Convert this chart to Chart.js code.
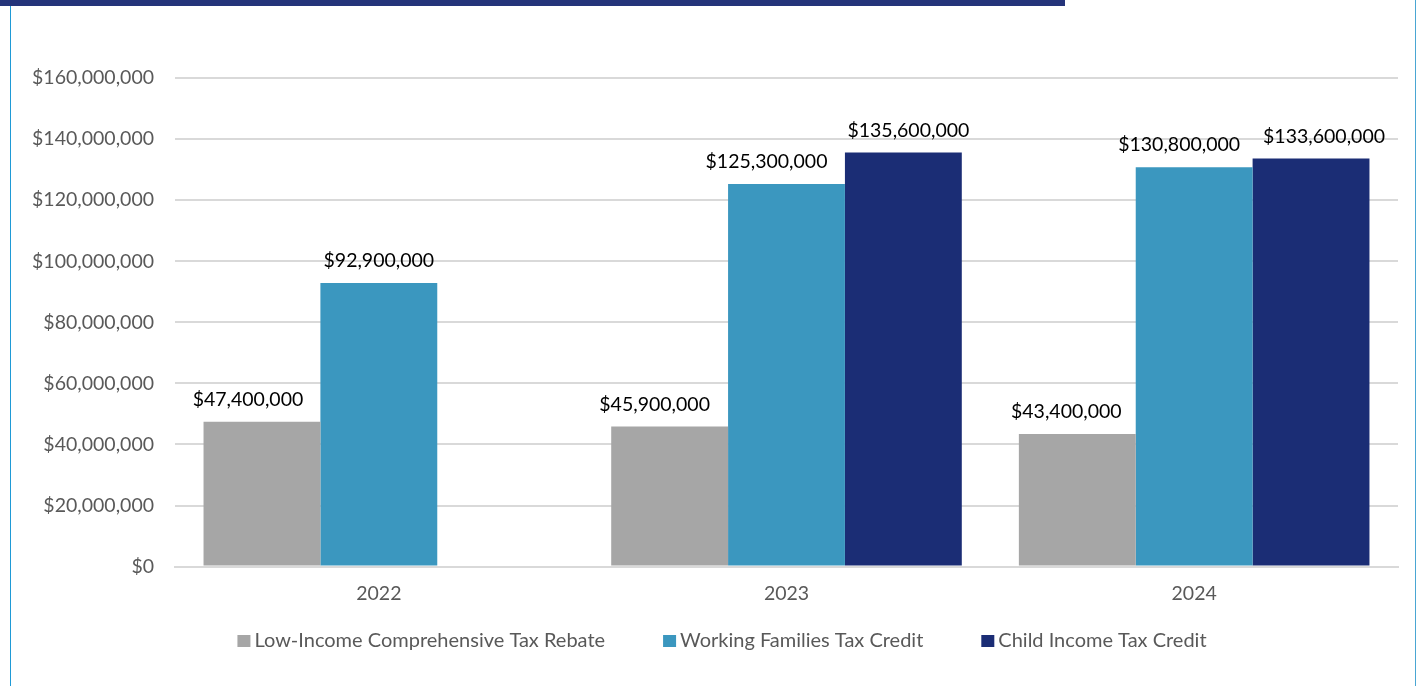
<!DOCTYPE html>
<html>
<head>
<meta charset="utf-8">
<script src="https://cdn.jsdelivr.net/npm/chart.js@4.4.1/dist/chart.umd.min.js"></script>
<style>
  html, body { margin: 0; padding: 0; background: #ffffff; }
  #wrap { position: relative; width: 1419px; height: 686px; overflow: hidden; }
  #topbar { position: absolute; left: 0; top: 0; width: 1065px; height: 6px; background: #25347a; }
  #leftrule { position: absolute; left: 10px; top: 6px; width: 1px; height: 680px; background: #1f9ad6; }
  #rightrule { position: absolute; left: 1415px; top: 0; width: 1px; height: 686px; background: #4aa6d3; }
  canvas { position: absolute; left: 0; top: 0; }
</style>
</head>
<body>
<div id="wrap">
  <canvas id="c" width="1419" height="686"></canvas>
  <div id="topbar"></div>
  <div id="leftrule"></div>
  <div id="rightrule"></div>
</div>
<script>
// Fiscal years shown on the category axis
const years = ['2022', '2023', '2024'];

// Credit totals in dollars per year (null = no credit that year)
const lowIncomeRebate = [47400000, 45900000, 43400000];
const workingFamilies = [92900000, 125300000, 130800000];
const childIncome = [null, 135600000, 133600000];

const seriesNames = [
  'Low-Income Comprehensive Tax Rebate',
  'Working Families Tax Credit',
  'Child Income Tax Credit'
];
const seriesColors = ['#a6a6a6', '#3b97bf', '#1b2d75'];

// Horizontal nudges (px) so neighbouring value labels don't collide
const labelNudge = [
  [-14, -15, -11],
  [0, -20, -15],
  [0, 5, 13]
];

const FONT = 'Lato, "Open Sans", sans-serif';
const money = v => '$' + Math.round(v).toLocaleString('en-US');

// Value labels above each bar
const barValueLabels = {
  id: 'barValueLabels',
  afterDatasetsDraw(chart) {
    const ctx = chart.ctx;
    ctx.save();
    ctx.font = '19.5px ' + FONT;
    ctx.fillStyle = '#000000';
    ctx.textAlign = 'center';
    ctx.textBaseline = 'middle';
    chart.data.datasets.forEach((ds, i) => {
      chart.getDatasetMeta(i).data.forEach((bar, j) => {
        const v = ds.data[j];
        if (v === null || v === undefined) return;
        ctx.fillText(money(v), bar.x + labelNudge[i][j], bar.y - 22);
      });
    });
    ctx.restore();
  }
};

// Legend row under the axis, built from the dataset names and colours
const legendRow = {
  id: 'legendRow',
  afterDraw(chart) {
    const ctx = chart.ctx;
    const box = 13, gap = 4, spacing = 58, cx = 722, cy = 641;
    ctx.save();
    ctx.font = '20px ' + FONT;
    ctx.textBaseline = 'middle';
    const items = chart.data.datasets.map(ds => ({
      text: ds.label, color: ds.backgroundColor, w: ctx.measureText(ds.label).width
    }));
    const total = items.reduce((s, it) => s + box + gap + it.w, 0) + spacing * (items.length - 1);
    let x = cx - total / 2;
    items.forEach(it => {
      ctx.fillStyle = it.color;
      ctx.fillRect(x, cy - 6, box, 12);
      ctx.fillStyle = '#595959';
      ctx.fillText(it.text, x + box + gap, cy);
      x += box + gap + it.w + spacing;
    });
    ctx.restore();
  }
};

new Chart(document.getElementById('c'), {
  type: 'bar',
  data: {
    labels: years,
    datasets: [
      { label: seriesNames[0], data: lowIncomeRebate, backgroundColor: seriesColors[0] },
      { label: seriesNames[1], data: workingFamilies, backgroundColor: seriesColors[1] },
      { label: seriesNames[2], data: childIncome, backgroundColor: seriesColors[2] }
    ]
  },
  options: {
    responsive: false,
    animation: false,
    layout: { padding: { left: 20, right: 21, top: 78, bottom: 66 } },
    datasets: { bar: { barPercentage: 1, categoryPercentage: 0.86 } },
    scales: {
      x: {
        grid: { display: false, drawTicks: false },
        border: { color: '#d9d9d9', width: 2 },
        ticks: { color: '#595959', font: { family: FONT, size: 19.5 }, padding: 15 }
      },
      y: {
        min: 0,
        max: 160000000,
        afterFit(scale) { scale.width = 155; },
        grid: { color: '#d9d9d9', lineWidth: 2, drawTicks: false },
        border: { display: false },
        ticks: {
          stepSize: 20000000,
          color: '#595959',
          font: { family: FONT, size: 19.5 },
          padding: 21,
          callback: v => money(v)
        }
      }
    },
    plugins: {
      legend: { display: false },
      tooltip: { enabled: false }
    }
  },
  plugins: [barValueLabels, legendRow]
});
</script>
</body>
</html>
